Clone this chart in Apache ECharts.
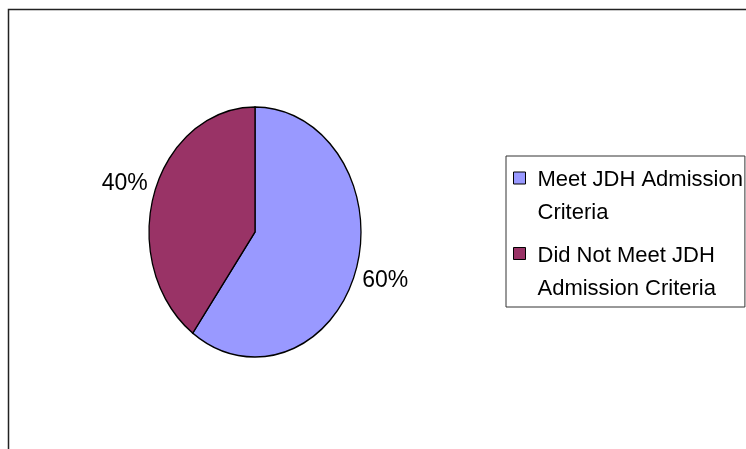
<!DOCTYPE html>
<html>
<head>
<meta charset="utf-8">
<script src="https://cdn.jsdelivr.net/npm/echarts@6/dist/echarts.min.js"></script>
<style>
html,body{margin:0;padding:0;background:#fff;}
#chart{width:746px;height:449px;}
</style>
</head>
<body>
<div id="chart"></div>
<script>
const categories = ['Meet JDH Admission Criteria', 'Did Not Meet JDH Admission Criteria'];
const legendLabels = ['Meet JDH Admission\nCriteria', 'Did Not Meet JDH\nAdmission Criteria'];
const values = [60, 40];
const colors = ['#9999FF', '#993366'];

const total = values.reduce((a, b) => a + b, 0);
const CX = 255, CY = 232, RX = 106, RY = 125, LABEL_D = 31;
const FONT = '"Liberation Sans", Arial, sans-serif';

function makeRender(i) {
  return function (params, api) {
    const v = api.value(0);
    let before = 0;
    for (let k = 0; k < i; k++) before += values[k];
    const a0 = -Math.PI / 2 + 2 * Math.PI * before / total;
    const a1 = -Math.PI / 2 + 2 * Math.PI * (before + v) / total;
    const mid = (a0 + a1) / 2;
    const lx = CX + Math.cos(mid) * (RX + LABEL_D);
    const ly = CY + Math.sin(mid) * (RY + LABEL_D);
    return {
      type: 'group',
      children: [
        {
          type: 'sector',
          x: CX, y: CY,
          scaleX: 1, scaleY: RY / RX,
          shape: { cx: 0, cy: 0, r0: 0, r: RX, startAngle: a0, endAngle: a1, clockwise: true },
          style: { fill: colors[i], stroke: '#000', lineWidth: 1.3 }
        },
        {
          type: 'text',
          x: lx, y: ly,
          style: {
            text: Math.round(v / total * 100) + '%',
            fill: '#000',
            font: '23px ' + FONT,
            align: 'center',
            verticalAlign: 'middle'
          }
        }
      ]
    };
  };
}

const chart = echarts.init(document.getElementById('chart'), null, { renderer: 'canvas' });
chart.setOption({
  animation: false,
  backgroundColor: '#fff',
  color: colors,
  graphic: [{
    type: 'rect',
    shape: { x: 8.5, y: 9.5, width: 900, height: 600 },
    style: { fill: 'none', stroke: '#222', lineWidth: 1.5 },
    silent: true
  }],
  legend: {
    orient: 'vertical',
    left: 506,
    top: 156,
    padding: [7.5, 2, 2, 7],
    borderColor: '#333',
    borderWidth: 1,
    backgroundColor: '#fff',
    itemWidth: 19,
    itemHeight: 49,
    itemGap: 9.5,
    icon: 'path://M0,0h12v12h-12z M19,49h0',
    itemStyle: { borderColor: '#000', borderWidth: 1 },
    selectedMode: false,
    formatter: function (name) { return legendLabels[categories.indexOf(name)]; },
    textStyle: { fontSize: 22, fontFamily: FONT, color: '#000', lineHeight: 33 },
    data: categories
  },
  series: categories.map((name, i) => ({
    type: 'custom',
    name: name,
    coordinateSystem: 'none',
    data: [[values[i]]],
    itemStyle: { color: colors[i] },
    renderItem: makeRender(i)
  }))
});
</script>
</body>
</html>
